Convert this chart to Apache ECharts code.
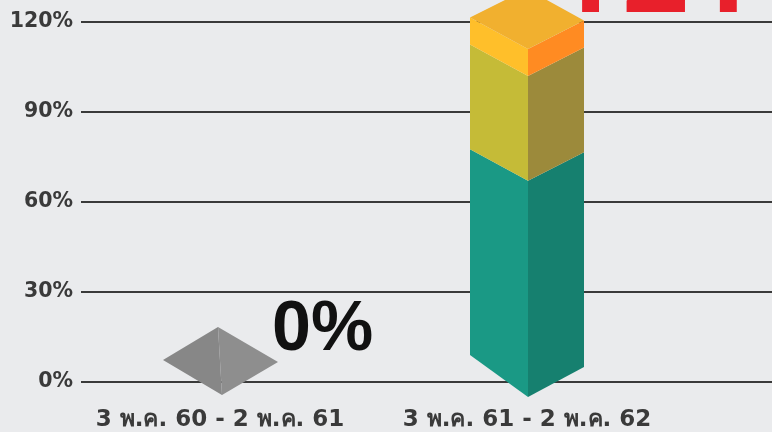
<!DOCTYPE html>
<html><head><meta charset="utf-8">
<script src="https://cdn.jsdelivr.net/npm/echarts@6/dist/echarts.min.js"></script>
<style>html,body{margin:0;padding:0;background:#eaebed}#c{width:772px;height:432px}</style>
</head><body><div id="c"></div>
<script>
const categories = ['3 พ.ค. 60 - 2 พ.ค. 61', '3 พ.ค. 61 - 2 พ.ค. 62'];
const tealValues = [0, 77];
const yellowValues = [0, 35];
const orangeValues = [0, 9];
const yTicks = [0, 30, 60, 90, 120];

const faceColors = [
  {left:'#1a9985', right:'#16806f'},
  {left:'#c5bb37', right:'#9c8a3b'},
  {left:'#ffbf2a', right:'#ff8b22', top:'#f1b02f'}
];

function renderItem(params, api) {
  const i = api.value(0);
  const segs = [api.value(1), api.value(2), api.value(3)];
  const total = segs[0] + segs[1] + segs[2];
  const LIFT = 20, W = 57, D = 30, T = 1.5;
  const cx = api.coord([i, 0])[0];
  // the zero plane of the 3D boxes sits slightly above the axis line
  const yOf = v => api.coord([i, v])[1] - (v === 0 ? LIFT : 0);
  const children = [];
  if (total === 0) {
    const y0 = yOf(0), d = 34;
    children.push({type:'polygon', shape:{points:[[cx-W,y0-1],[cx-2,y0-d],[cx+2,y0+d]]}, style:{fill:'#878787'}});
    children.push({type:'polygon', shape:{points:[[cx-2,y0-d],[cx+W+1,y0+1],[cx+2,y0+d]]}, style:{fill:'#8e8e8e'}});
    children.push({type:'text', style:{text: total + '%', x: cx + 52, y: y0 - 30,
      font: 'bold 70px "Liberation Sans"', fill:'#111111', align:'left', verticalAlign:'middle'}});
  } else {
    let acc = 0;
    for (let s = 0; s < segs.length; s++) {
      const a = acc, b = acc + segs[s];
      acc = b;
      const yA = yOf(a), yB = yOf(b);
      const isBase = (a === 0);
      const dA = isBase ? D + 6 : D, tA = isBase ? 6 : T;
      const c = faceColors[s];
      children.push({type:'polygon', shape:{points:[[cx-W,yB-T],[cx+1,yB+D],[cx+1,yA+dA],[cx-W,yA-tA]]}, style:{fill:c.left}});
      children.push({type:'polygon', shape:{points:[[cx+1,yB+D],[cx+W,yB+T],[cx+W,yA+tA],[cx+1,yA+dA]]}, style:{fill:c.right}});
      if (s === segs.length - 1) {
        children.push({type:'polygon', shape:{points:[[cx-W,yB-T],[cx,yB-D],[cx+W,yB+T],[cx+1,yB+D]]}, style:{fill:c.top}});
      }
    }
    const yT = yOf(total);
    children.push({type:'text', style:{text: total + '%', x: cx + 25, y: yT - 37,
      font: 'bold 120px Roboto', fill:'#e8202b', align:'left', verticalAlign:'middle',
      shadowColor:'rgba(40,40,40,0.7)', shadowOffsetX:3, shadowOffsetY:2, shadowBlur:2}});
  }
  return {type:'group', children: children};
}

const chart = echarts.init(document.getElementById('c'), null, {renderer:'canvas'});
chart.setOption({
  backgroundColor:'#eaebed',
  animation:false,
  grid:[
    {left:81, right:0, top:22, bottom:50},
    {left:66.5, right:91.5, top:22, bottom:50}
  ],
  xAxis:[
    {gridIndex:0, type:'value', show:false, min:0, max:1},
    {gridIndex:1, type:'category', data:categories, boundaryGap:true,
     axisLine:{show:false}, axisTick:{show:false},
     axisLabel:{interval:0, margin:28, color:'#3a3a3a', fontWeight:'bold', fontSize:23, fontFamily:'"DejaVu Sans", sans-serif'}}
  ],
  yAxis:[
    {gridIndex:0, type:'value', min:yTicks[0], max:yTicks[yTicks.length-1], interval:yTicks[1]-yTicks[0],
     axisLine:{show:false}, axisTick:{show:false},
     axisLabel:{formatter:'{value}%', margin:8, color:'#3a3a3a', fontWeight:'bold', fontSize:20.5, fontFamily:'"DejaVu Sans", sans-serif'},
     splitLine:{lineStyle:{color:'#3a3a3a', width:2}}},
    {gridIndex:1, type:'value', min:yTicks[0], max:yTicks[yTicks.length-1], show:false, splitLine:{show:false}}
  ],
  series:[{
    type:'custom', xAxisIndex:1, yAxisIndex:1, clip:false,
    renderItem: renderItem,
    data: categories.map((c, i) => [i, tealValues[i], yellowValues[i], orangeValues[i]])
  }]
});
</script></body></html>
